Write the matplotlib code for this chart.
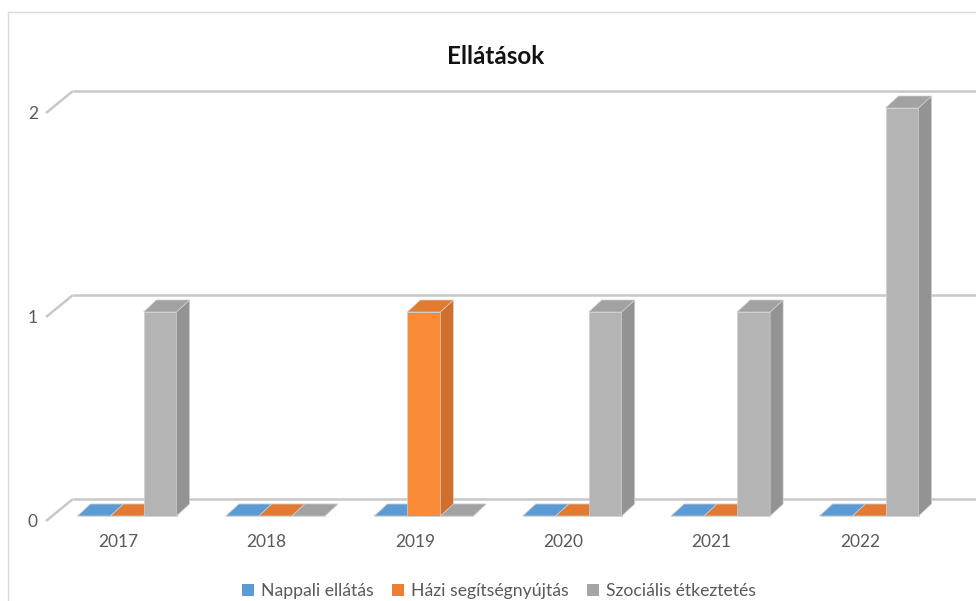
import matplotlib
matplotlib.use("Agg")
import matplotlib.pyplot as plt
from matplotlib.patches import Polygon, Patch
from matplotlib.lines import Line2D

# ---------------- data ----------------
years = ["2017", "2018", "2019", "2020", "2021", "2022"]
series_names = ["Nappali ellátás", "Házi segítségnyújtás", "Szociális étkeztetés"]
nappali = [0, 0, 0, 0, 0, 0]
hazi = [0, 0, 1, 0, 0, 0]
szocialis = [1, 0, 0, 1, 1, 2]
y_ticks = [0, 1, 2]
title = "Ellátások"

series = [nappali, hazi, szocialis]

# ---------------- style ----------------
FONT = ["Lato", "DejaVu Sans"]
TXT = "#595959"
front_col = ["#5B9BD5", "#FA8B37", "#B4B4B4"]
side_col = ["#4A7FB0", "#D06E2B", "#939393"]
top_col = ["#5B9BD5", "#E27A31", "#A2A2A2"]

W, H, DPI = 976, 601, 100
fig = plt.figure(figsize=(W / DPI, H / DPI), dpi=DPI)
fig.patch.set_facecolor("white")
ax = fig.add_axes([0, 0, 1, 1])
ax.set_axis_off()

# pixel geometry of the projection (layout only)
px_group = 148.4          # px per category
px_unit = 204.0           # px per value unit
x0_px = 127.0             # px of group 0 center (front)
y0_px = 516.0             # px (from top) of value 0 at front
ax.set_xlim(-x0_px / px_group, (W - x0_px) / px_group)
ax.set_ylim(-(H - y0_px) / px_unit, y0_px / px_unit)

bw = 33.0 / px_group       # bar width
ddx = 13.0 / px_group      # depth offset x
ddy = 12.0 / px_unit       # depth offset y
wall_dy = 17.0 / px_unit   # back wall vertical offset
wall_x = (73 - x0_px) / px_group
front_x = (46 - x0_px) / px_group
front_dy = -5.0 / px_unit

# back wall gridlines + left wall diagonals
for v in y_ticks:
    ax.plot([wall_x, 10], [v + wall_dy, v + wall_dy], color="#C8C8C8", lw=1.8,
            solid_capstyle="butt", zorder=1)
    ax.plot([front_x, wall_x], [v + front_dy, v + wall_dy], color="#C8C8C8", lw=1.8,
            solid_capstyle="butt", zorder=1)
    ax.text(front_x - 0.055, v + front_dy - 0.005, str(v), ha="right", va="center",
            fontsize=12.5, color=TXT, family=FONT)

n = len(years)
offsets = [-1.5 * bw, -0.5 * bw, 0.5 * bw]

# front faces through ax.bar
for j, vals in enumerate(series):
    lefts = [i + offsets[j] for i in range(n)]
    ax.bar(lefts, vals, width=bw, align="edge", color=front_col[j],
           edgecolor="#CFCFCF", linewidth=0.5, zorder=5)
    for i, v in enumerate(vals):
        xl = lefts[i]
        xr = xl + bw
        if v == 0:
            top = Polygon([(xl, 0), (xr, 0), (xr + ddx, ddy), (xl + ddx, ddy)],
                          closed=True, facecolor=top_col[j], edgecolor="#C9C9C9",
                          lw=0.6, zorder=3)
            ax.add_patch(top)
        else:
            side = Polygon([(xr, 0), (xr + ddx, ddy), (xr + ddx, v + ddy), (xr, v)],
                           closed=True, facecolor=side_col[j], edgecolor="#CFCFCF",
                           lw=0.5, zorder=5)
            top = Polygon([(xl, v), (xr, v), (xr + ddx, v + ddy), (xl + ddx, v + ddy)],
                          closed=True, facecolor=top_col[j], edgecolor="#CFCFCF",
                          lw=0.5, zorder=5)
            ax.add_patch(side)
            ax.add_patch(top)

# category labels
for i, yr in enumerate(years):
    ax.text(i - 9.0 / px_group, -26.0 / px_unit, yr, ha="center", va="center",
            fontsize=12.5, color=TXT, family=FONT)

# title
fig.text(496 / W, 1 - 57 / H, title, ha="center", va="center", fontsize=17.5,
         fontweight="bold", color="#111111", family=FONT)

# legend
handles = [Patch(facecolor=front_col[0]), Patch(facecolor="#ED7D31"),
           Patch(facecolor="#A5A5A5")]
leg = fig.legend(handles, series_names, loc="center", bbox_to_anchor=(499 / W, 1 - 591 / H),
                 ncol=3, frameon=False, handlelength=0.7, handleheight=0.7,
                 handletextpad=0.4, columnspacing=1.0,
                 prop={"family": FONT, "size": 12.7})
for t in leg.get_texts():
    t.set_color(TXT)

# chart frame (partially visible)
fig.add_artist(Line2D([8 / W, 8 / W], [0, 1 - 12 / H], transform=fig.transFigure,
                      color="#D9D9D9", lw=1))
fig.add_artist(Line2D([8 / W, 1], [1 - 12 / H, 1 - 12 / H], transform=fig.transFigure,
                      color="#D9D9D9", lw=1))

fig.savefig("out.png", dpi=DPI)
